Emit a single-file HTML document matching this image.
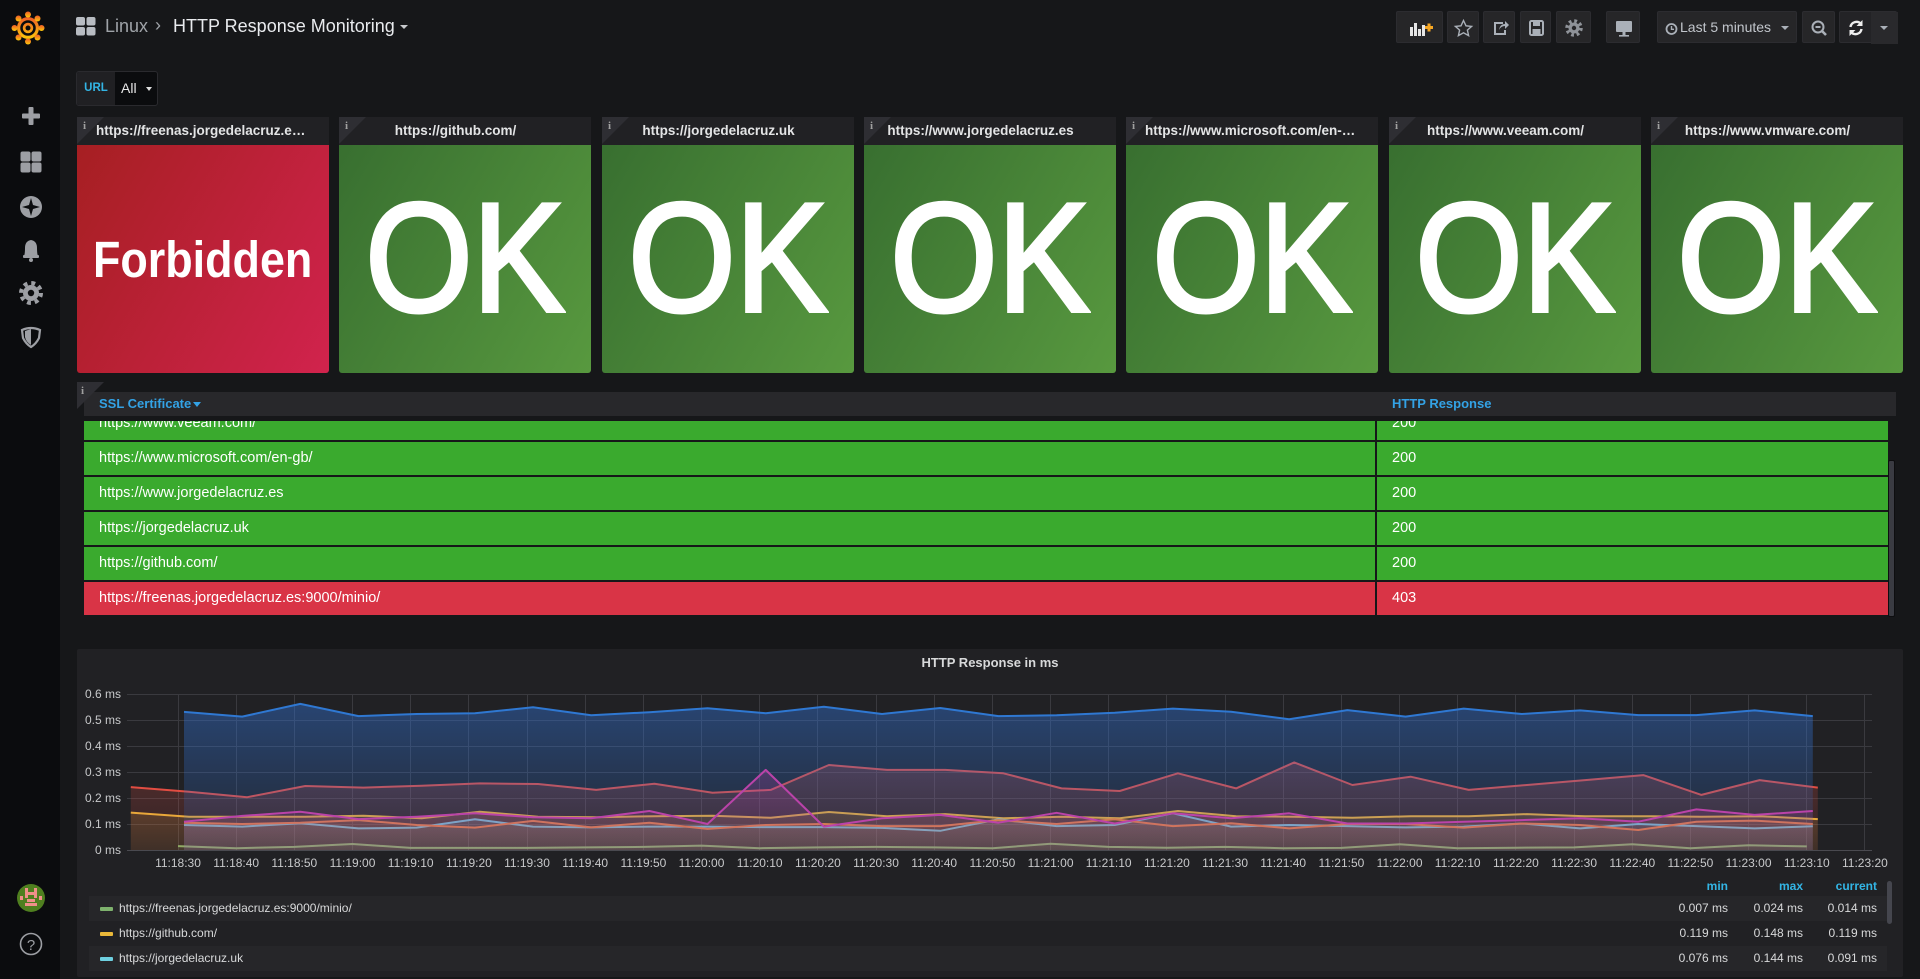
<!DOCTYPE html>
<html><head><meta charset="utf-8">
<style>
*{box-sizing:border-box;margin:0;padding:0}
html,body{width:1920px;height:979px;overflow:hidden;background:#161719;font-family:"Liberation Sans",sans-serif;color:#d8d9da}
.a{position:absolute}
.btn{position:absolute;top:11px;height:32px;background:#262628;border:1px solid #2c2c30;border-radius:2px}
.btn svg{position:absolute;left:0;top:0}
.ph{position:absolute;top:117px;height:28px;width:252px;background:#212124;font-size:13.5px;font-weight:bold;color:#e3e4e5;line-height:28px;text-align:center;padding:0 38px 0 19px;white-space:nowrap;overflow:hidden;text-overflow:ellipsis}
.ph.t{padding:0 22px 0 19px;text-align:left}
.corner{position:absolute;width:0;height:0;border-top:27px solid #2e2e33;border-right:27px solid transparent}
.ci{position:absolute;font-family:"Liberation Serif",serif;font-weight:bold;font-size:11px;color:#a0a0a0;line-height:11px}
.pb{position:absolute;top:145px;height:228px;width:252px;border-radius:0 0 3px 3px;display:flex;align-items:center;justify-content:center;color:#fff;overflow:hidden}
.red{background:linear-gradient(120deg,#a61f22,#d1234d)}
.grn{background:linear-gradient(120deg,#386f30,#58993f)}
.ok{font-size:155px;font-weight:normal;-webkit-text-stroke:4px #fff;transform:scaleX(0.89);line-height:1;margin-top:-4px}
.fb{font-size:51px;font-weight:bold;transform:scaleX(0.88);line-height:1}
.row{position:absolute;height:33px;font-size:14.5px;color:#fff;line-height:33px}
.c1{left:0;width:1291px;padding-left:15px}
.c2{left:1293px;width:511px;padding-left:15px}
.g{background:#3aaa2e}
.r{background:#d93446}
.lg{position:absolute;left:89px;width:1798px;height:25px;font-size:12px;line-height:25px;color:#d8d9da}
.lg .v{position:absolute;text-align:right;width:80px}
.sw{position:absolute;left:11px;top:11px;width:13px;height:4px;border-radius:1px}
</style></head>
<body>

<!-- sidebar -->
<div class="a" style="left:0;top:0;width:60px;height:979px;background:#0b0c0e"></div>
<svg class="a" style="left:0;top:0" width="60" height="979" viewBox="0 0 60 979">
  <defs><linearGradient id="lo" x1="0" y1="1" x2="0" y2="0"><stop offset="0" stop-color="#fbca0a"/><stop offset="1" stop-color="#f05a28"/></linearGradient></defs>
  <g fill="url(#lo)">
    <circle cx="28" cy="28" r="11"/>
    <circle cx="28" cy="14.5" r="3"/><circle cx="37.5" cy="18.5" r="3"/><circle cx="41.5" cy="28" r="3"/>
    <circle cx="37.5" cy="37.5" r="3"/><circle cx="28" cy="41.5" r="3"/><circle cx="18.5" cy="37.5" r="3"/>
    <circle cx="14.5" cy="28" r="3"/><circle cx="18.5" cy="18.5" r="3"/>
  </g>
  <circle cx="28" cy="28" r="6.5" fill="none" stroke="#0b0c0e" stroke-width="2.5"/>
  <circle cx="28" cy="28" r="2.5" fill="#0b0c0e"/>
  <g fill="#9d9fa4">
    <rect x="22" y="113.5" width="18" height="5" rx="1"/><rect x="28.5" y="107" width="5" height="18" rx="1"/>
    <rect x="20.5" y="151.5" width="10" height="10" rx="2"/><rect x="31.5" y="151.5" width="10" height="10" rx="2"/>
    <rect x="20.5" y="162.5" width="10" height="10" rx="2"/><rect x="31.5" y="162.5" width="10" height="10" rx="2"/>
    <circle cx="31" cy="207" r="11"/>
    <path d="M24 256 Q25 254 25 248 Q25 241 31 240 Q37 241 37 248 Q37 254 38 256 Z"/><rect x="23" y="255" width="16" height="3" rx="1"/><circle cx="31" cy="260" r="2"/>
    <circle cx="31" cy="293" r="8"/>
  </g>
  <path d="M31 198 L33 205 L40 207 L33 209 L31 216 L29 209 L22 207 L29 205 Z" fill="#0b0c0e"/>
  <circle cx="31" cy="293" r="10" fill="none" stroke="#9d9fa4" stroke-width="4" stroke-dasharray="3.9 3.95"/>
  <circle cx="31" cy="293" r="3.2" fill="#0b0c0e"/>
  <path d="M22 330 Q31 326 40 330 L39 338 Q36 344 31 347 Q26 344 23 338 Z" fill="none" stroke="#9d9fa4" stroke-width="2.2"/>
  <path d="M31 329 L31 345 Q26 342 25 337 L25 331 Z" fill="#9d9fa4"/>
  <circle cx="31" cy="898" r="14" fill="#4f7f1f"/>
  <g fill="#f0908a"><rect x="25" y="888" width="3" height="10"/><rect x="34" y="888" width="3" height="10"/><rect x="25" y="892" width="12" height="3"/><rect x="27" y="899" width="8" height="3"/><rect x="25" y="903" width="12" height="3"/><rect x="20" y="896" width="3" height="4"/><rect x="39" y="896" width="3" height="4"/></g>
  <circle cx="31" cy="944" r="10.5" fill="none" stroke="#9d9fa4" stroke-width="1.6"/>
  <text x="31" y="950" text-anchor="middle" font-family="Liberation Sans" font-size="15" fill="#9d9fa4">?</text>
</svg>

<!-- top bar -->
<svg class="a" style="left:76px;top:17px" width="20" height="19">
  <g fill="#b8bcc2"><rect x="0" y="0" width="9" height="8.5" rx="2"/><rect x="10.5" y="0" width="9" height="8.5" rx="2"/><rect x="0" y="10" width="9" height="8.5" rx="2"/><rect x="10.5" y="10" width="9" height="8.5" rx="2"/></g>
</svg>
<div class="a" style="left:105px;top:15px;font-size:18px;line-height:22px;color:#9fa3a8">Linux</div>
<div class="a" style="left:155px;top:14px;font-size:18px;line-height:22px;color:#9fa3a8">›</div>
<div class="a" style="left:173px;top:15px;font-size:18px;line-height:22px;color:#e9ebee">HTTP Response Monitoring</div>
<div class="a" style="left:400px;top:25px;width:0;height:0;border-left:4px solid transparent;border-right:4px solid transparent;border-top:4px solid #c7c9cc"></div>

<!-- buttons -->
<div class="btn" style="left:1396px;width:47px"><svg width="47" height="32"><g fill="#e6e6e6"><rect x="13" y="15" width="3" height="9"/><rect x="17" y="11" width="3" height="13"/><rect x="21" y="17" width="3" height="7"/><rect x="25" y="13" width="3" height="11"/></g><g fill="#f5a623"><rect x="28" y="14" width="8" height="3"/><rect x="30.5" y="11.5" width="3" height="8"/></g></svg></div>
<div class="btn" style="left:1447px;width:32px"><svg width="32" height="32"><path d="M15.5 8.5 L18 13.8 L23.6 14.4 L19.4 18.1 L20.6 23.6 L15.5 20.8 L10.4 23.6 L11.6 18.1 L7.4 14.4 L13 13.8 Z" fill="none" stroke="#aab0b8" stroke-width="1.4"/></svg></div>
<div class="btn" style="left:1483px;width:32px"><svg width="32" height="32"><path d="M19 11 H11 V22 H21 V18" fill="none" stroke="#aab0b8" stroke-width="2"/><path d="M15 18 Q16 12 21 12 V9 L25 13 L21 17 V14 Q17 14 15 18Z" fill="#aab0b8"/></svg></div>
<div class="btn" style="left:1520px;width:31px"><svg width="31" height="32"><rect x="9" y="9" width="13" height="14" rx="1.5" fill="none" stroke="#aab0b8" stroke-width="2"/><rect x="12" y="10" width="7" height="4" fill="#aab0b8"/><rect x="11.5" y="17" width="8" height="5" fill="#aab0b8"/></svg></div>
<div class="btn" style="left:1556px;width:35px"><svg width="35" height="32"><circle cx="17" cy="16" r="5.5" fill="#8f9399"/><circle cx="17" cy="16" r="7" fill="none" stroke="#8f9399" stroke-width="3.5" stroke-dasharray="2.75 2.75"/><circle cx="17" cy="16" r="2.2" fill="#262628"/></svg></div>
<div class="btn" style="left:1606px;width:34px"><svg width="34" height="32"><rect x="9" y="9" width="16" height="11" rx="1" fill="#aab0b8"/><rect x="15.5" y="20" width="3" height="3" fill="#aab0b8"/><rect x="12" y="23" width="10" height="1.6" fill="#aab0b8"/></svg></div>
<div class="btn" style="left:1657px;width:140px"><svg width="24" height="32"><circle cx="13.5" cy="17" r="5" fill="none" stroke="#aab0b8" stroke-width="1.8"/><path d="M13.5 14 V17.3 H16" fill="none" stroke="#aab0b8" stroke-width="1.4"/></svg>
  <div class="a" style="left:22px;top:0;line-height:30px;font-size:14px;color:#c2c6cc">Last 5 minutes</div>
  <div class="a" style="left:123px;top:14px;width:0;height:0;border-left:4px solid transparent;border-right:4px solid transparent;border-top:4px solid #aab0b8"></div></div>
<div class="btn" style="left:1802px;width:33px"><svg width="33" height="32"><circle cx="15" cy="15" r="5.5" fill="none" stroke="#aab0b8" stroke-width="2"/><rect x="12.5" y="14" width="5" height="2" fill="#aab0b8"/><path d="M19 19 L23 23" stroke="#aab0b8" stroke-width="2.6"/></svg></div>
<div class="btn" style="left:1839px;width:58px;background:#232326"><svg width="58" height="32"><path d="M10.5 15 A6 6 0 0 1 21 12" fill="none" stroke="#eee" stroke-width="2.4"/><path d="M22.5 8 V14 H16.5Z" fill="#eee"/><path d="M21.5 17 A6 6 0 0 1 11 20" fill="none" stroke="#eee" stroke-width="2.4"/><path d="M9.5 24 V18 H15.5Z" fill="#eee"/><rect x="31" y="0" width="27" height="32" fill="#29292c"/><path d="M40 14 L48 14 L44 18Z" fill="#aab0b8"/></svg></div>

<!-- variable -->
<div class="a" style="left:76px;top:71px;width:82px;height:35px;border:1px solid #2a2a2e;border-radius:3px;background:#0b0c0e;overflow:hidden">
  <div class="a" style="left:0;top:0;width:38px;height:33px;background:#202023;color:#33b5e5;font-size:11.5px;font-weight:bold;line-height:33px;text-align:center">URL</div>
  <div class="a" style="left:44px;top:0;line-height:33px;font-size:14px;color:#e8e8e8">All</div>
  <div class="a" style="left:69px;top:15px;width:0;height:0;border-left:3.5px solid transparent;border-right:3.5px solid transparent;border-top:4px solid #e0e0e0"></div>
</div>

<!-- stat panels -->
<div class="ph t" style="left:77px">https://freenas.jorgedelacruz.es:9000/minio/</div>
<div class="ph" style="left:339px">https://github.com/</div>
<div class="ph" style="left:602px">https://jorgedelacruz.uk</div>
<div class="ph" style="left:864px">https://www.jorgedelacruz.es</div>
<div class="ph t" style="left:1126px">https://www.microsoft.com/en-gb/</div>
<div class="ph" style="left:1389px">https://www.veeam.com/</div>
<div class="ph" style="left:1651px">https://www.vmware.com/</div>

<div class="corner" style="left:77px;top:117px"></div><div class="ci" style="left:83px;top:121px">i</div>
<div class="corner" style="left:339px;top:117px"></div><div class="ci" style="left:345px;top:121px">i</div>
<div class="corner" style="left:602px;top:117px"></div><div class="ci" style="left:608px;top:121px">i</div>
<div class="corner" style="left:864px;top:117px"></div><div class="ci" style="left:870px;top:121px">i</div>
<div class="corner" style="left:1126px;top:117px"></div><div class="ci" style="left:1132px;top:121px">i</div>
<div class="corner" style="left:1389px;top:117px"></div><div class="ci" style="left:1395px;top:121px">i</div>
<div class="corner" style="left:1651px;top:117px"></div><div class="ci" style="left:1657px;top:121px">i</div>

<div class="pb red" style="left:77px"><span class="fb">Forbidden</span></div>
<div class="pb grn" style="left:339px"><span class="ok">OK</span></div>
<div class="pb grn" style="left:602px"><span class="ok">OK</span></div>
<div class="pb grn" style="left:864px"><span class="ok">OK</span></div>
<div class="pb grn" style="left:1126px"><span class="ok">OK</span></div>
<div class="pb grn" style="left:1389px"><span class="ok">OK</span></div>
<div class="pb grn" style="left:1651px"><span class="ok">OK</span></div>

<!-- table panel -->
<div class="a" style="left:84px;top:392px;width:1812px;height:24px;background:#28282b"></div>
<div class="corner" style="left:77px;top:382px"></div><div class="ci" style="left:81px;top:386px">i</div>
<div class="a" style="left:99px;top:392px;line-height:24px;font-size:13px;font-weight:bold;color:#33a2e5">SSL Certificate <span style="display:inline-block;width:0;height:0;border-left:4px solid transparent;border-right:4px solid transparent;border-top:5px solid #33a2e5;vertical-align:middle;margin-left:-2px"></span></div>
<div class="a" style="left:1392px;top:392px;line-height:24px;font-size:13px;font-weight:bold;color:#33a2e5">HTTP Response</div>

<div class="a" style="left:84px;top:421px;width:1804px;height:195px;overflow:hidden">
  <div class="row g c1" style="top:-14px">https://www.veeam.com/</div><div class="row g c2" style="top:-14px">200</div>
  <div class="row g c1" style="top:21px">https://www.microsoft.com/en-gb/</div><div class="row g c2" style="top:21px">200</div>
  <div class="row g c1" style="top:56px">https://www.jorgedelacruz.es</div><div class="row g c2" style="top:56px">200</div>
  <div class="row g c1" style="top:91px">https://jorgedelacruz.uk</div><div class="row g c2" style="top:91px">200</div>
  <div class="row g c1" style="top:126px">https://github.com/</div><div class="row g c2" style="top:126px">200</div>
  <div class="row r c1" style="top:161px">https://freenas.jorgedelacruz.es:9000/minio/</div><div class="row r c2" style="top:161px">403</div>
</div>
<div class="a" style="left:1888px;top:460px;width:7px;height:157px;background:#3a3b42;border:1px solid #0e0e10;border-radius:2px"></div>

<!-- graph panel -->
<div class="a" style="left:77px;top:649px;width:1826px;height:328px;background:#212124;border-radius:2px"></div>
<div class="a" style="left:790px;top:654px;width:400px;text-align:center;font-size:13px;font-weight:bold;line-height:18px;color:#d8d9da">HTTP Response in ms</div>

<svg class="a" style="left:0;top:640px" width="1920" height="240" viewBox="0 640 1920 240" font-family="Liberation Sans">
<defs>
<linearGradient id="fG" gradientUnits="userSpaceOnUse" x1="0" y1="694" x2="0" y2="850"><stop offset="0" stop-color="#7EB26D" stop-opacity="0.42"/><stop offset="1" stop-color="#7EB26D" stop-opacity="0.08"/></linearGradient>
<linearGradient id="fY" gradientUnits="userSpaceOnUse" x1="0" y1="694" x2="0" y2="850"><stop offset="0" stop-color="#EAB839" stop-opacity="0.42"/><stop offset="1" stop-color="#EAB839" stop-opacity="0.08"/></linearGradient>
<linearGradient id="fL" gradientUnits="userSpaceOnUse" x1="0" y1="694" x2="0" y2="850"><stop offset="0" stop-color="#6ED0E0" stop-opacity="0.42"/><stop offset="1" stop-color="#6ED0E0" stop-opacity="0.08"/></linearGradient>
<linearGradient id="fO" gradientUnits="userSpaceOnUse" x1="0" y1="694" x2="0" y2="850"><stop offset="0" stop-color="#EF843C" stop-opacity="0.42"/><stop offset="1" stop-color="#EF843C" stop-opacity="0.08"/></linearGradient>
<linearGradient id="fR" gradientUnits="userSpaceOnUse" x1="0" y1="694" x2="0" y2="850"><stop offset="0" stop-color="#E24D42" stop-opacity="0.42"/><stop offset="1" stop-color="#E24D42" stop-opacity="0.08"/></linearGradient>
<linearGradient id="fB" gradientUnits="userSpaceOnUse" x1="0" y1="694" x2="0" y2="850"><stop offset="0" stop-color="#3274D9" stop-opacity="0.45"/><stop offset="1" stop-color="#3274D9" stop-opacity="0.08"/></linearGradient>
<linearGradient id="fM" gradientUnits="userSpaceOnUse" x1="0" y1="694" x2="0" y2="850"><stop offset="0" stop-color="#BA43A9" stop-opacity="0.42"/><stop offset="1" stop-color="#BA43A9" stop-opacity="0.08"/></linearGradient>
</defs>
<g stroke="#3a3a3f" stroke-width="1" fill="none">
<path d="M127 694.5H1872M127 720.5H1872M127 746.5H1872M127 772.5H1872M127 798.5H1872M127 824.5H1872"/>
<path d="M178.5 694V850M236.5 694V850M294.5 694V850M352.5 694V850M410.5 694V850M468.5 694V850M527.5 694V850M585.5 694V850M643.5 694V850M701.5 694V850M759.5 694V850M817.5 694V850M876.5 694V850M934.5 694V850M992.5 694V850M1050.5 694V850M1108.5 694V850M1166.5 694V850M1225.5 694V850M1283.5 694V850M1341.5 694V850M1399.5 694V850M1457.5 694V850M1515.5 694V850M1574.5 694V850M1632.5 694V850M1690.5 694V850M1748.5 694V850M1806.5 694V850M1864.5 694V850"/>
</g>
<path d="M127 850.5H1872" stroke="#4a4a50" stroke-width="1"/>

<!-- green -->
<path fill="url(#fG)" d="M178,850 L178,846.1 236.2,848.2 294.3,846.9 352.5,844 410.7,847.9 468.9,847.9 527,847.9 585.2,847.4 643.4,846.9 701.5,845.6 759.7,848.2 817.9,847.4 876,846.9 934.2,847.4 992.4,848.2 1050.6,843.8 1108.7,846.9 1166.9,847.7 1225.1,846.9 1283.2,848.2 1341.4,847.9 1399.6,844.3 1457.7,848.2 1515.9,847.7 1574.1,847.4 1632.3,844.3 1690.4,848.2 1748.6,845.3 1806.8,846.4 L1806.8,850Z"/>
<polyline fill="none" stroke="#7EB26D" stroke-width="2" stroke-linejoin="round" points="178,846.1 236.2,848.2 294.3,846.9 352.5,844 410.7,847.9 468.9,847.9 527,847.9 585.2,847.4 643.4,846.9 701.5,845.6 759.7,848.2 817.9,847.4 876,846.9 934.2,847.4 992.4,848.2 1050.6,843.8 1108.7,846.9 1166.9,847.7 1225.1,846.9 1283.2,848.2 1341.4,847.9 1399.6,844.3 1457.7,848.2 1515.9,847.7 1574.1,847.4 1632.3,844.3 1690.4,848.2 1748.6,845.3 1806.8,846.4"/>
<!-- yellow -->
<path fill="url(#fY)" d="M130.8,850 L130.8,812.6 189,816.7 247.2,816.7 305.3,816.7 363.5,815.7 421.7,818.3 479.9,811.8 538,816.7 596.2,817.2 654.4,816.2 712.5,815.7 770.7,817.8 828.9,812 887,816.2 945.2,814.1 1003.4,818.3 1061.6,816.7 1119.7,818.3 1177.9,811 1236.1,816.2 1294.2,816.7 1352.4,817.8 1410.6,816.2 1468.7,816.2 1526.9,814.1 1585.1,816.2 1643.3,816.2 1701.4,816.7 1759.6,816.2 1817.8,819.1 L1817.8,850Z"/>
<polyline fill="none" stroke="#EAB839" stroke-width="2" stroke-linejoin="round" points="130.8,812.6 189,816.7 247.2,816.7 305.3,816.7 363.5,815.7 421.7,818.3 479.9,811.8 538,816.7 596.2,817.2 654.4,816.2 712.5,815.7 770.7,817.8 828.9,812 887,816.2 945.2,814.1 1003.4,818.3 1061.6,816.7 1119.7,818.3 1177.9,811 1236.1,816.2 1294.2,816.7 1352.4,817.8 1410.6,816.2 1468.7,816.2 1526.9,814.1 1585.1,816.2 1643.3,816.2 1701.4,816.7 1759.6,816.2 1817.8,819.1"/>
<!-- light blue -->
<path fill="url(#fL)" d="M184,850 L184,825 242.2,826.6 300.3,823.2 358.5,828.4 416.7,827.6 474.9,819.3 533,826.6 591.2,827.4 649.4,826.6 707.5,826.6 765.7,827.1 823.9,827.1 882,827.9 940.2,830.8 998.4,819.3 1056.6,826.1 1114.7,825 1172.9,813.3 1231.1,826.6 1289.2,825 1347.4,826.1 1405.6,827.4 1463.7,826.6 1521.9,823.5 1580.1,828.4 1638.3,824 1696.4,826.1 1754.6,828.4 1812.8,826.3 L1812.8,850Z"/>
<polyline fill="none" stroke="#6ED0E0" stroke-width="2" stroke-linejoin="round" points="184,825 242.2,826.6 300.3,823.2 358.5,828.4 416.7,827.6 474.9,819.3 533,826.6 591.2,827.4 649.4,826.6 707.5,826.6 765.7,827.1 823.9,827.1 882,827.9 940.2,830.8 998.4,819.3 1056.6,826.1 1114.7,825 1172.9,813.3 1231.1,826.6 1289.2,825 1347.4,826.1 1405.6,827.4 1463.7,826.6 1521.9,823.5 1580.1,828.4 1638.3,824 1696.4,826.1 1754.6,828.4 1812.8,826.3"/>
<!-- orange -->
<path fill="url(#fO)" d="M184,850 L184,822.7 242.2,824 300.3,822.7 358.5,820.1 416.7,825 474.9,827.6 533,820.9 591.2,827.4 649.4,822.7 707.5,828.9 765.7,825 823.9,824 882,826.1 940.2,826.1 998.4,820.1 1056.6,824 1114.7,819.3 1172.9,826.1 1231.1,823.2 1289.2,828.4 1347.4,824 1405.6,824 1463.7,827.6 1521.9,823.5 1580.1,825 1638.3,830 1696.4,821.7 1754.6,820.6 1812.8,824 L1812.8,850Z"/>
<polyline fill="none" stroke="#EF843C" stroke-width="2" stroke-linejoin="round" points="184,822.7 242.2,824 300.3,822.7 358.5,820.1 416.7,825 474.9,827.6 533,820.9 591.2,827.4 649.4,822.7 707.5,828.9 765.7,825 823.9,824 882,826.1 940.2,826.1 998.4,820.1 1056.6,824 1114.7,819.3 1172.9,826.1 1231.1,823.2 1289.2,828.4 1347.4,824 1405.6,824 1463.7,827.6 1521.9,823.5 1580.1,825 1638.3,830 1696.4,821.7 1754.6,820.6 1812.8,824"/>
<!-- red -->
<path fill="url(#fR)" d="M130.8,850 L130.8,787.1 189,791.8 247.2,797.2 305.3,786 363.5,787.6 421.7,785.8 479.9,783.4 538,784 596.2,789.9 654.4,783.7 712.5,792.8 770.7,789.9 828.9,765 887,769.9 945.2,769.9 1003.4,773.3 1061.6,788.4 1119.7,791 1177.9,773.3 1236.1,788.4 1294.2,762.4 1352.4,785 1410.6,776.7 1468.7,789.9 1526.9,785 1585.1,780.1 1643.3,775.1 1701.4,794.9 1759.6,780.1 1817.8,787.6 L1817.8,850Z"/>
<polyline fill="none" stroke="#E24D42" stroke-width="2" stroke-linejoin="round" points="130.8,787.1 189,791.8 247.2,797.2 305.3,786 363.5,787.6 421.7,785.8 479.9,783.4 538,784 596.2,789.9 654.4,783.7 712.5,792.8 770.7,789.9 828.9,765 887,769.9 945.2,769.9 1003.4,773.3 1061.6,788.4 1119.7,791 1177.9,773.3 1236.1,788.4 1294.2,762.4 1352.4,785 1410.6,776.7 1468.7,789.9 1526.9,785 1585.1,780.1 1643.3,775.1 1701.4,794.9 1759.6,780.1 1817.8,787.6"/>
<!-- blue -->
<path fill="url(#fB)" d="M184,850 L184,711.9 242.2,716.6 300.3,703.9 358.5,716.1 416.7,714 474.9,713.2 533,707.3 591.2,715.3 649.4,712.2 707.5,708.3 765.7,713.2 823.9,706.7 882,714 940.2,708 998.4,716.1 1056.6,715.3 1114.7,712.7 1172.9,708.6 1231.1,711.7 1289.2,719.2 1347.4,710.1 1405.6,716.6 1463.7,708.6 1521.9,714 1580.1,710.4 1638.3,715.1 1696.4,715.1 1754.6,710.4 1812.8,716.1 L1812.8,850Z"/>
<polyline fill="none" stroke="#2f78d2" stroke-width="2" stroke-linejoin="round" points="184,711.9 242.2,716.6 300.3,703.9 358.5,716.1 416.7,714 474.9,713.2 533,707.3 591.2,715.3 649.4,712.2 707.5,708.3 765.7,713.2 823.9,706.7 882,714 940.2,708 998.4,716.1 1056.6,715.3 1114.7,712.7 1172.9,708.6 1231.1,711.7 1289.2,719.2 1347.4,710.1 1405.6,716.6 1463.7,708.6 1521.9,714 1580.1,710.4 1638.3,715.1 1696.4,715.1 1754.6,710.4 1812.8,716.1"/>
<!-- magenta -->
<path fill="url(#fM)" d="M184,850 L184,821.7 242.2,815.9 300.3,811.8 358.5,819.1 416.7,816.7 474.9,813.3 533,817.2 591.2,818.3 649.4,811 707.5,824 765.7,769.9 823.9,826.6 882,818.3 940.2,814.9 998.4,822.7 1056.6,812.8 1114.7,823.5 1172.9,813.3 1231.1,818.3 1289.2,813.3 1347.4,823.5 1405.6,823.5 1463.7,821.7 1521.9,820.1 1580.1,818.3 1638.3,821.7 1696.4,809.4 1754.6,814.9 1812.8,811 L1812.8,850Z"/>
<polyline fill="none" stroke="#BA43A9" stroke-width="2" stroke-linejoin="round" points="184,821.7 242.2,815.9 300.3,811.8 358.5,819.1 416.7,816.7 474.9,813.3 533,817.2 591.2,818.3 649.4,811 707.5,824 765.7,769.9 823.9,826.6 882,818.3 940.2,814.9 998.4,822.7 1056.6,812.8 1114.7,823.5 1172.9,813.3 1231.1,818.3 1289.2,813.3 1347.4,823.5 1405.6,823.5 1463.7,821.7 1521.9,820.1 1580.1,818.3 1638.3,821.7 1696.4,809.4 1754.6,814.9 1812.8,811"/>

<g font-size="12" fill="#c8c9cb" text-anchor="end">
<text x="121" y="698">0.6 ms</text><text x="121" y="724">0.5 ms</text><text x="121" y="750">0.4 ms</text><text x="121" y="776">0.3 ms</text><text x="121" y="802">0.2 ms</text><text x="121" y="828">0.1 ms</text><text x="121" y="854">0 ms</text>
</g>
<g font-size="12" fill="#c8c9cb" text-anchor="middle">
<text x="178" y="867">11:18:30</text><text x="236.2" y="867">11:18:40</text><text x="294.3" y="867">11:18:50</text><text x="352.5" y="867">11:19:00</text><text x="410.7" y="867">11:19:10</text><text x="468.9" y="867">11:19:20</text><text x="527" y="867">11:19:30</text><text x="585.2" y="867">11:19:40</text><text x="643.4" y="867">11:19:50</text><text x="701.5" y="867">11:20:00</text><text x="759.7" y="867">11:20:10</text><text x="817.9" y="867">11:20:20</text><text x="876" y="867">11:20:30</text><text x="934.2" y="867">11:20:40</text><text x="992.4" y="867">11:20:50</text><text x="1050.6" y="867">11:21:00</text><text x="1108.7" y="867">11:21:10</text><text x="1166.9" y="867">11:21:20</text><text x="1225.1" y="867">11:21:30</text><text x="1283.2" y="867">11:21:40</text><text x="1341.4" y="867">11:21:50</text><text x="1399.6" y="867">11:22:00</text><text x="1457.7" y="867">11:22:10</text><text x="1515.9" y="867">11:22:20</text><text x="1574.1" y="867">11:22:30</text><text x="1632.3" y="867">11:22:40</text><text x="1690.4" y="867">11:22:50</text><text x="1748.6" y="867">11:23:00</text><text x="1806.8" y="867">11:23:10</text><text x="1864.9" y="867">11:23:20</text>
</g>
</svg>

<!-- legend -->
<div class="a" style="left:1648px;top:878px;width:80px;text-align:right;font-size:12px;font-weight:bold;color:#33b5e5;line-height:16px">min</div>
<div class="a" style="left:1723px;top:878px;width:80px;text-align:right;font-size:12px;font-weight:bold;color:#33b5e5;line-height:16px">max</div>
<div class="a" style="left:1797px;top:878px;width:80px;text-align:right;font-size:12px;font-weight:bold;color:#33b5e5;line-height:16px">current</div>

<div class="lg" style="top:896px;background:#262629"><div class="sw" style="background:#7EB26D"></div><span class="a" style="left:30px">https://freenas.jorgedelacruz.es:9000/minio/</span><span class="v" style="left:1559px">0.007 ms</span><span class="v" style="left:1634px">0.024 ms</span><span class="v" style="left:1708px">0.014 ms</span></div>
<div class="lg" style="top:921px;background:#212124"><div class="sw" style="background:#EAB839"></div><span class="a" style="left:30px">https://github.com/</span><span class="v" style="left:1559px">0.119 ms</span><span class="v" style="left:1634px">0.148 ms</span><span class="v" style="left:1708px">0.119 ms</span></div>
<div class="lg" style="top:946px;background:#262629"><div class="sw" style="background:#6ED0E0"></div><span class="a" style="left:30px">https://jorgedelacruz.uk</span><span class="v" style="left:1559px">0.076 ms</span><span class="v" style="left:1634px">0.144 ms</span><span class="v" style="left:1708px">0.091 ms</span></div>
<div class="a" style="left:1887px;top:881px;width:5px;height:43px;background:#45464e;border-radius:3px"></div>

</body></html>
